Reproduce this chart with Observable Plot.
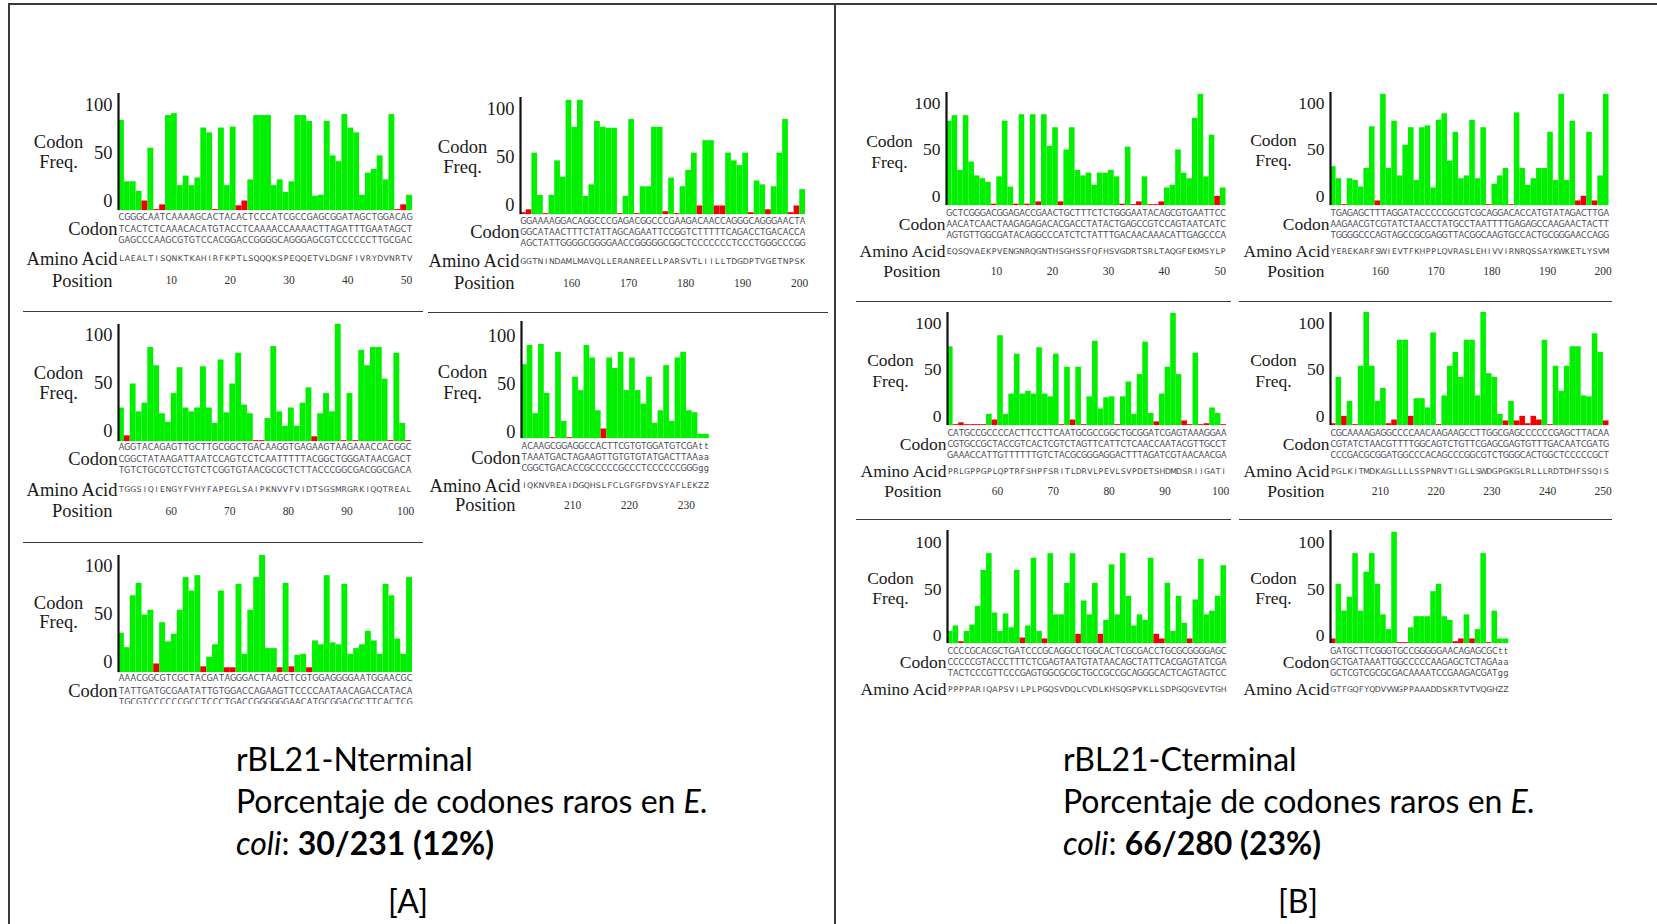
<!DOCTYPE html>
<html><head><meta charset="utf-8">
<script src="https://cdn.jsdelivr.net/npm/d3@7"></script>
<script src="https://cdn.jsdelivr.net/npm/@observablehq/plot@0.6"></script>
<style>
body{margin:0;background:#fff;}
#page{position:relative;width:1657px;height:924px;overflow:hidden;background:#fff;}
.panel{position:absolute;overflow:hidden;}
.panel svg{max-width:none;}
.line{position:absolute;background:#3a3a3a;}
.cap{position:absolute;font-family:Lato,"Open Sans",sans-serif;font-size:32px;color:#000;line-height:42px;white-space:nowrap;}
</style></head><body><div id="page"></div>
<script>
// ---------- DATA ----------
// rBL21-Nterminal [A]
const nStart1 = 1;
const nFreq1 = [94,30,30,20,10,65,1,6,99,101,26,36,26,34,86,81,1,86,26,87,5,10,32,99,99,99,26,32,19,30,99,99,93,15,16,93,57,51,100,86,81,16,39,43,57,32,100,1,6,16];
const nCodon1 = ["CGGGCAATCAAAAGCACTACACTCCCATCGCCGAGCGGATAGCTGGACAG","TCACTCTCAAACACATGTACCTCAAAACCAAAACTTAGATTTGAATAGCT","GAGCCCAAGCGTGTCCACGGACCGGGGCAGGGAGCGTCCCCCCTTGCGAC"];
const nAmino1 = "LAEALTISQNKTKAHIRFKPTLSQQQKSPEQQETVLDGNFIVRYDVNRTV";

const nStart2 = 51;
const nFreq2 = [35,6,60,31,40,98,79,29,20,50,77,35,31,35,78,35,19,85,30,60,92,38,29,1,1,24,99,31,16,35,16,40,56,5,29,50,31,122,1,50,1,95,79,98,98,65,1,92,19,1];
const nCodon2 = ["AGGTACAGAGTTGCTTGCGGCTGACAAGGTGAGAAGTAAGAAACCACGGC","CGGCTATAAGATTAATCCAGTCCTCAATTTTTACGGCTGGGATAACGACT","TGTCTGCGTCCTGTCTCGGTGTAACGCGCTCTTACCCGGCGACGGCGACA"];
const nAmino2 = "TGGSIQIENGYFVHYFAPEGLSAIPKNVVFVIDTSGSMRGRKIQQTREAL";

const nStart3 = 101;
const nFreq3 = [41,26,80,93,60,65,9,52,32,40,65,99,85,101,6,16,29,85,5,5,92,19,65,99,122,25,25,5,93,6,18,19,5,33,29,101,31,29,92,19,25,29,43,33,19,92,80,35,19,99];
const nCodon3 = ["AAACGGCGTCGCTACGATAGGGACTAAGCTCGTGGAGGGGAATGGAACGC","TATTGATGCGAATATTGTGGACCAGAAGTTCCCCAATAACAGACCATACA","TGCGTCCCCCCGCCTCCCTGACCGGGGGGAACATGCGGACGCTTCACTCG"];
const nAmino3 = "";

const nStart4 = 151;
const nFreq4 = [2,5,64,20,1,20,56,39,119,91,119,19,31,97,91,90,90,1,19,99,1,29,29,91,91,3,38,1,29,46,64,9,77,77,9,9,64,56,51,64,2,35,31,5,29,64,99,2,9,26];
const nCodon4 = ["GGAAAAGGACAGGCCCGAGACGGCCCGAAGACAACCAGGGCAGGGAACTA","GGCATAACTTTCTATTAGCAGAATTCCGGTCTTTTTCAGACCTGACACCA","AGCTATTGGGGCGGGGAACCGGGGGCGGCTCCCCCCCTCCCTGGGCCCGG"];
const nAmino4 = "GGTNINDAMLMAVQLLERANREELLPARSVTLIILLTDGDPTVGETNPSK";

const nStart5 = 201;
const nFreq5 = [77,97,26,98,47,1,90,18,1,64,50,97,84,29,10,84,73,90,50,84,50,36,64,16,29,76,18,84,90,29,27,4.5,4.5];
const nCodon5 = ["ACAAGCGGAGGCCACTTCGTGTGGATGTCGAtt","TAAATGACTAGAAGTTGTGTGTATGACTTAAaa","CGGCTGACACCGCCCCCGCCCTCCCCCCGGGgg"];
const nAmino5 = "IQKNVREAIDGQHSLFCLGFGFDVSYAFLEKZZ";

// rBL21-Cterminal [B]
const cStart1 = 1;
const cFreq1 = [91,97,38,97,47,32,29,25,1.5,31,91,20,1.5,98,1.5,98,4,98,64,84,4,60,84,38,32,35,22,35,35,38,31,1.5,63,1,4,31,1,1,4,19,22,60,35,29,94,120,31,76,10,19];
const cCodon1 = ["GCTCGGGACGGAGACCGAACTGCTTTCTCTGGGAATACAGCGTGAATTCC","AACATCAACTAAGAGAGACACGACCTATACTGAGCCGTCCAGTAATCATC","AGTGTTGGCGATACAGGCCCATCTCTATTTGACAACAAACATTGAGCCCA"];
const cAmino1 = "EQSQVAEKPVENGNRQGNTHSGHSSFQFHSVGDRTSRLTAQGFEKMSYLP";

const cStart2 = 51;
const cFreq2 = [85,1,3,1,1,1,1,12,6,97,12,34,77,34,37,34,84,34,31,77,1,63,6,63,1,31,91,18,30,31,1,31,47,12,55,90,13,4,34,63,121,55,5,1,78,1,2,19,13,1];
const cCodon2 = ["CATGCCGCCCCACTTCCTTCAATGCGCCGGCTGCGGATCGAGTAAAGGAA","CGTGCCGCTACCGTCACTCGTCTAGTTCATTCTCAACCAATACGTTGCCT","GAAACCATTGTTTTTTGTCTACGCGGGAGGACTTTAGATCGTAACAACGA"];
const cAmino2 = "PRLGPPGPLQPTRFSHPFSRITLDRVLPEVLSVPDETSHDMDSRIIGATI";

const cStart3 = 101;
const cFreq3 = [13,19,2,13,20,40,79,97,33,13,32,17,79,6,19,92,13,5,97,31,31,65,97,10,46,31,65,10,25,85,31,97,51,19,31,25,92,10,5,65,13,51,22,5,47,91,31,35,51,84];
const cCodon3 = ["CCCCGCACGCTGATCCCGCAGGCCTGGCACTCGCGACCTGCGCGGGGAGC","CCCCCGTACCCTTTCTCGAGTAATGTATAACAGCTATTCACGAGTATCGA","TACTCCCGTTCCCGAGTGGCGCGCTGCCGCCGCAGGGCACTCAGTAGTCC"];
const cAmino3 = "PPPPARIQAPSVILPLPGQSVDQLCVDLKHSQGPVKLLSDPGQGVEVTGH";

const cStart4 = 151;
const cFreq4 = [42,29,1,29,27,20,40,85,5,120,40,91,32,65,84,27,84,86,19,92,99,48,79,29,32,92,29,84,1,23,32,40,1,100,40,22,29,40,40,79,27,120,27,91,5,10,79,5,32,120];
const cCodon4 = ["TGAGAGCTTTAGGATACCCCCGCGTCGCAGGACACCATGTATAGACTTGA","AAGAACGTCGTATCTAACCTATGCCTAATTTTGAGAGCCAAGAACTACTT","TGGGGCCCAGTAGCCGCGAGGTTACGGCAAGTGCCACTGCGGGAACCAGG"];
const cAmino4 = "YEREKARFSWIEVTFKHPPLQVRASLEHIVVIRNRQSSAYKWKETLYSVM";

const cStart5 = 201;
const cFreq5 = [2,52,10,26,1,64,122,64,26,40,2,6,92,92,10,29,29,19,100,1,32,64,79,52,92,92,32,122,56,52,12,5,26,5,10,2,10,6,92,1,64,37,64,85,85,32,31,99,79,5];
const cCodon5 = ["CGCAAAAGAGGCCCCAACAAGAAGCCTTGGCGAGCCCCCCGAGCTTACAA","CGTATCTAACGTTTTGGCAGTCTGTTCGAGCGAGTGTTTGACAATCGATG","CCCGACGCGGATGGCCCACAGCCCGGCGTCTGGGCACTGGCTCCCCCGCT"];
const cAmino5 = "PGLKITMDKAGLLLLSSPNRVTIGLLSWDGPGKGLRLLLRDTDHFSSQIS";

const cStart6 = 251;
const cFreq6 = [5,64,35,50,97,35,77,97,64,31,15,120,1,1,17,29,29,29,56,64,29,25,2,5,31,5,15,97,1,35,5,5];
const cCodon6 = ["GATGCTTCGGGTGCCGGGGGAACAGAGCGCtt","GCTGATAAATTGGCCCCCAAGAGCTCTAGAaa","GCTCGTCGCGCGACAAAATCCGAAGACGATgg"];
const cAmino6 = "GTFGQFYQDVVWGPPAAADDSKRTVTVQGHZZ";

const yTicks = [0, 50, 100];
const rowLabels = ["Codon", "Amino Acid", "Position"];
const yLabelLines = ["Codon", "Freq."];

// ---------- LAYOUT ----------
const GREEN = "#00f000", RED = "#f00000";
const offA = {c:[6.5,18.3,30], aa:48, pos:70};
const offB = {c:[7.5,18.5,29.3], aa:45.5, pos:65.5};
const panels = [
  {start:nStart1, freq:nFreq1, codon:nCodon1, amino:nAmino1, barX:117.7, base:209.7, bw:5.88, unit:0.96, off:offA, cl:-68.7, fl:-48.7, tdy:-10, fdx:-60, fs:18.5},
  {start:nStart2, freq:nFreq2, codon:nCodon2, amino:nAmino2, barX:117.7, base:440.7, bw:5.86, unit:0.96, off:{c:[5.6,17.3,29],aa:48,pos:69.6}, cl:-68.7, fl:-48.7, tdy:-10.5, fdx:-60, fs:18.5},
  {start:nStart3, freq:nFreq3, codon:nCodon3, amino:nAmino3, barX:117.7, base:672, bw:5.88, unit:0.96, off:{c:[6,18.7,30],aa:48,pos:70}, cl:-70, fl:-50.7, tdy:-11, fdx:-60, fs:18.5, clip:704},
  {start:nStart4, freq:nFreq4, codon:nCodon4, amino:nAmino4, barX:520, base:213.7, bw:5.7, unit:0.96, off:{c:[6.6,17.6,29],aa:46.6,pos:68.3}, cl:-67.7, fl:-47.7, tdy:-10, fdx:-58, fs:18.5},
  {start:nStart5, freq:nFreq5, codon:nCodon5, amino:nAmino5, barX:520.7, base:438, bw:5.69, unit:0.96, off:{c:[7.3,19,29.7],aa:47.3,pos:66.7}, cl:-66.7, fl:-45.3, tdy:-7, fdx:-59, fs:18.5},
  {start:cStart1, freq:cFreq1, codon:cCodon1, amino:cAmino1, barX:945.7, base:205.3, bw:5.59, unit:0.927, off:offB, cl:-64, fl:-43.3, tdy:-9.6, fdx:-57, fs:17.5},
  {start:cStart2, freq:cFreq2, codon:cCodon2, amino:cAmino2, barX:946.7, base:425.3, bw:5.58, unit:0.927, off:offB, cl:-65.6, fl:-44.6, tdy:-9.6, fdx:-57, fs:17.5},
  {start:cStart3, freq:cFreq3, codon:cCodon3, amino:cAmino3, barX:946.7, base:643.3, bw:5.58, unit:0.927, off:offB, cl:-65, fl:-45.6, tdy:-8.3, fdx:-57, fs:17.5, clip:698},
  {start:cStart4, freq:cFreq4, codon:cCodon4, amino:cAmino4, barX:1330, base:204.7, bw:5.57, unit:0.927, off:offB, cl:-65, fl:-45, tdy:-9.6, fdx:-57, fs:17.5},
  {start:cStart5, freq:cFreq5, codon:cCodon5, amino:cAmino5, barX:1330, base:424.7, bw:5.57, unit:0.927, off:offB, cl:-65.6, fl:-44.6, tdy:-9.6, fdx:-57, fs:17.5},
  {start:cStart6, freq:cFreq6, codon:cCodon6, amino:cAmino6, barX:1330, base:643.3, bw:5.57, unit:0.927, off:offB, cl:-65, fl:-45.6, tdy:-8.3, fdx:-57, fs:17.5, clip:698}
];

const page = document.getElementById("page");
const SERIF = "'Liberation Serif', 'Times New Roman', serif";
const MONO = "'DejaVu Sans', sans-serif";

function drawPanel(p) {
  const n = p.freq.length;
  const mL = 110, mR = 8, mT = 8, mB = 84;
  const yMax = 122;
  const plotH = yMax * p.unit;
  const width = mL + n * p.bw + mR;
  const height = mT + plotH + mB;
  const x0 = p.start - 0.5;
  const data = p.freq.map((v, i) => ({
    pos: p.start + i, v,
    rare: v <= 11 && !(p.amino && p.amino[i] === "Z")
  }));
  const at0 = () => x0, y0 = () => 0;
  const lab = {fontSize: p.fs, fontFamily: SERIF, fill: "#1a1a1a"};
  const marks = [
    Plot.rectY(data, {x1: d => d.pos - 0.5, x2: d => d.pos + 0.5, y1: 0, y2: "v", fill: d => d.rare ? RED : GREEN}),
    Plot.ruleX([x0], {stroke: "#111", strokeWidth: 2.2}),
    Plot.axisY({ticks: yTicks, tickSize: 0, tickPadding: 6, dy: p.tdy, label: null, ...lab}),
    Plot.text([yLabelLines[0]], {x: at0, y: y0, text: d => d, dx: p.fdx, dy: p.cl, ...lab}),
    Plot.text([yLabelLines[1]], {x: at0, y: y0, text: d => d, dx: p.fdx, dy: p.fl, ...lab}),
    Plot.text([rowLabels[0]], {x: at0, y: y0, text: d => d, dx: -1, dy: p.off.c[1], textAnchor: "end", ...lab})
  ];
  p.codon.forEach((row, r) => {
    marks.push(Plot.text(Array.from(row), {x: (d, i) => p.start + i, y: y0, text: d => d, dy: p.off.c[r], fontSize: 8.2, fontFamily: MONO, fill: "#4a4a55"}));
  });
  if (p.amino) {
    marks.push(Plot.text(Array.from(p.amino), {x: (d, i) => p.start + i, y: y0, text: d => d, dy: p.off.aa, fontSize: 7.8, fontFamily: MONO, fill: "#44444c"}));
    marks.push(Plot.text([rowLabels[1]], {x: at0, y: y0, text: d => d, dx: -1, dy: p.off.aa, textAnchor: "end", ...lab}));
    marks.push(Plot.text([rowLabels[2]], {x: at0, y: y0, text: d => d, dx: -6, dy: p.off.pos, textAnchor: "end", ...lab}));
    marks.push(Plot.text(data.filter(d => d.pos % 10 === 0), {x: "pos", y: y0, text: d => String(d.pos), dx: -3, dy: p.off.pos, fontSize: 11.5, fontFamily: SERIF, fill: "#333"}));
  }
  const svg = Plot.plot({
    width, height, marginLeft: mL, marginRight: mR, marginTop: mT, marginBottom: mB,
    x: {domain: [x0, x0 + n], axis: null},
    y: {domain: [0, yMax], axis: null},
    style: {background: "transparent"},
    marks
  });
  const left = p.barX - mL;
  const top = p.base - plotH - mT;
  const div = document.createElement("div");
  div.className = "panel";
  div.style.left = left + "px";
  div.style.top = top + "px";
  div.style.width = width + "px";
  div.style.height = (p.clip ? p.clip - top : height) + "px";
  div.appendChild(svg);
  page.appendChild(div);
}
panels.forEach(drawPanel);

// frame and separators
function line(x, y, w, h) {
  const d = document.createElement("div");
  d.className = "line";
  Object.assign(d.style, {left: x + "px", top: y + "px", width: w + "px", height: h + "px"});
  page.appendChild(d);
}
line(8, 3, 1649, 2);
line(8, 3, 2, 921);
line(834, 3, 2, 921);
line(23, 311, 400, 1.3);
line(428, 312, 400, 1.3);
line(23, 542, 400, 1.3);
line(856, 301, 375, 1.3);
line(1239, 301, 373, 1.3);
line(856, 519, 375, 1.3);
line(1239, 519, 373, 1.3);

// captions
function cap(html, x, y, center) {
  const d = document.createElement("div");
  d.className = "cap";
  d.innerHTML = html;
  d.style.top = (y - 21) + "px";
  if (center) { d.style.left = (x - 100) + "px"; d.style.width = "200px"; d.style.textAlign = "center"; }
  else d.style.left = x + "px";
  page.appendChild(d);
}
cap("rBL21-Nterminal", 236, 759);
cap("Porcentaje de codones raros en <i>E.</i>", 236, 801);
cap("<i>coli</i>: <b>30/231 (12%)</b>", 236, 843);
cap("[A]", 408, 901, true);
cap("rBL21-Cterminal", 1063, 759);
cap("Porcentaje de codones raros en <i>E.</i>", 1063, 801);
cap("<i>coli</i>: <b>66/280 (23%)</b>", 1063, 843);
cap("[B]", 1298, 901, true);
</script></body></html>
